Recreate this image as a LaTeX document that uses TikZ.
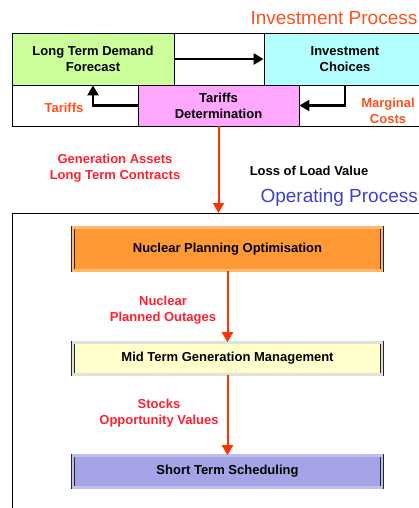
\documentclass[tikz,border=0pt]{standalone}
\usepackage{fontspec}
\setmainfont{Liberation Sans}
\usetikzlibrary{arrows.meta}
\definecolor{demandgreen}{HTML}{CCFF99}
\definecolor{choicecyan}{HTML}{B3FFFF}
\definecolor{tariffpink}{HTML}{FFA6FF}
\definecolor{planorange}{HTML}{FF9933}
\definecolor{midyellow}{HTML}{FFFFCC}
\definecolor{shortblue}{HTML}{A3A3E6}
\definecolor{flowred}{HTML}{FF3300}
\definecolor{labelred}{HTML}{FF2030}
\definecolor{costred}{HTML}{FF5020}
\definecolor{opblue}{HTML}{4040D0}
\newcommand{\boxfont}{\fontsize{13}{16}\selectfont\bfseries}

\begin{document}
\begin{tikzpicture}[x=1pt,y=-1pt,
invbox/.style={draw=black,line width=0.8pt,align=center,font=\boxfont,inner sep=0pt,
	minimum width=162pt},
opbox/.style={draw=black!85,line width=0.6pt,double distance=2.2pt,align=center,font=\boxfont,
	inner sep=0pt,minimum width=309pt},
flowlabel/.style={align=center,font=\boxfont,text=labelred},
costlabel/.style={align=center,font=\boxfont,text=costred},
loop/.style={line width=2.5pt,-{Triangle[length=10pt,width=11pt]}},
flow/.style={draw=flowred,line width=2pt,-{Triangle[length=10pt,width=11pt]},color=flowred}]
\useasboundingbox (0,0) rectangle (418,508);

%investment process
\draw[line width=0.8pt] (12,33) rectangle (430,126);
\node[anchor=west,font=\fontsize{19}{22}\selectfont,text=costred](invtitle) at (247,18) {Investment Process};
\node[invbox,fill=demandgreen,minimum height=52pt](ltd) at (93,59) {Long Term Demand\\Forecast};
\node[invbox,fill=choicecyan,minimum height=52pt](ic) at (345,59) {Investment\\Choices};
\node[invbox,fill=tariffpink,minimum height=41pt,minimum width=161pt](td) at (218.5,105.5) {Tariffs\\Determination};
\draw[loop] (ltd.east) -- (ic.west);
\draw[loop] (ic.south) |- (td.east);
\draw[loop] (td.west) -| (ltd.south);
\node[costlabel](tariffs) at (64,108) {Tariffs};
\node[costlabel](marginal) at (388,111) {Marginal\\Costs};

%link between the two processes
\coordinate(optop) at (218.5,213);
\draw[flow] (td.south) -- (optop);
\node[flowlabel](assets) at (115,168) {Generation Assets\\Long Term Contracts};
\node[font=\boxfont](lolv) at (309,171) {Loss of Load Value};

%operating process
\node[anchor=west,font=\fontsize{19}{22}\selectfont,text=opblue](optitle) at (257,198) {Operating Process};
\draw[line width=0.8pt] (12,520) |- (430,213);
\node[opbox,double=planorange!70,fill=planorange,minimum height=43pt](npo) at (227.5,249) {Nuclear Planning Optimisation};
\node[opbox,double=midyellow!60!black!30,fill=midyellow,minimum height=32pt](mtgm) at (227.5,358.5) {Mid Term Generation Management};
\node[opbox,double=shortblue!70,fill=shortblue,minimum height=32pt](sts) at (227.5,471.5) {Short Term Scheduling};
\draw[flow] (npo.south) -- (mtgm.north);
\draw[flow] (mtgm.south) -- (sts.north);
\node[flowlabel](outages) at (163,310) {Nuclear\\Planned Outages};
\node[flowlabel](stocks) at (159,413) {Stocks\\Opportunity Values};
\end{tikzpicture}
\end{document}
